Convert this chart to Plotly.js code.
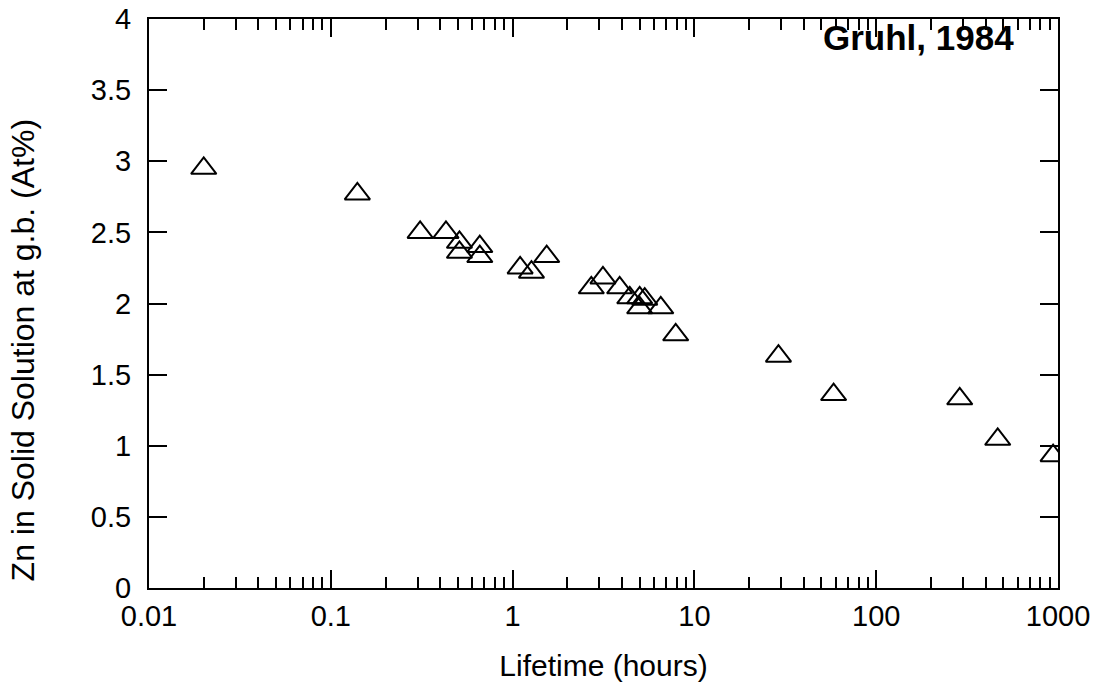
<!DOCTYPE html>
<html>
<head>
<meta charset="utf-8">
<script src="https://cdn.plot.ly/plotly-3.0.1.min.js"></script>
<style>html,body{margin:0;padding:0;background:#fff;}#chart{width:1099px;height:694px;}</style>
</head>
<body>
<div id="chart"></div>
<script>
// Data (Gruhl, 1984)
const lifetimeHours = [0.02, 0.14, 0.31, 0.43, 0.51, 0.51, 0.66, 0.66, 1.1, 1.27, 1.54,
  2.71, 3.14, 3.88, 4.41, 5.0, 5.33, 5.0, 6.53, 7.89, 29, 58.3, 288, 466, 940];
const znAtGB = [2.95, 2.77, 2.50, 2.50, 2.43, 2.36, 2.40, 2.33, 2.25, 2.22, 2.33,
  2.11, 2.18, 2.11, 2.04, 2.04, 2.03, 1.97, 1.97, 1.78, 1.63, 1.36, 1.33, 1.045, 0.93];
const xTickVals = [0.01, 0.1, 1, 10, 100, 1000];
const xTickText = ["0.01", "0.1", "1", "10", "100", "1000"];
const yTickVals = [0, 0.5, 1, 1.5, 2, 2.5, 3, 3.5, 4];
const yTickText = ["0", "0.5", "1", "1.5", "2", "2.5", "3", "3.5", "4"];
const xTitle = "Lifetime (hours)";
const yTitle = "Zn in Solid Solution at g.b. (At%)";
const label = "Gruhl, 1984";

const minorVals = [];
for (let d = -2; d < 3; d++) for (let m = 2; m <= 9; m++) minorVals.push(m * Math.pow(10, d));

const font = {family: "Liberation Sans, Arial, sans-serif", color: "#000"};

const trace = {
  x: lifetimeHours, y: znAtGB, type: "scatter", mode: "markers",
  marker: {symbol: "triangle-up-open", size: 22, color: "#000", line: {width: 2, color: "#000"}},
  hoverinfo: "x+y", showlegend: false
};

const layout = {
  width: 1099, height: 694,
  margin: {l: 149, r: 41, t: 19, b: 106, pad: 0},
  paper_bgcolor: "#fff", plot_bgcolor: "#fff",
  font: Object.assign({size: 29}, font),
  xaxis: {
    type: "log", range: [-2, 3],
    tickmode: "array", tickvals: xTickVals, ticktext: xTickText,
    ticks: "inside", ticklen: 18, tickwidth: 2, tickcolor: "#000",
    minor: {tickmode: "array", tickvals: minorVals, ticks: "inside", ticklen: 11, tickwidth: 2, tickcolor: "#000"},
    showline: true, linewidth: 2, linecolor: "#000", mirror: "allticks",
    showgrid: false, zeroline: false,
    tickfont: Object.assign({size: 29}, font),
    ticklabelstandoff: 1,
    title: {text: xTitle, font: Object.assign({size: 30}, font), standoff: 24}
  },
  yaxis: {
    range: [0, 4],
    tickmode: "array", tickvals: yTickVals, ticktext: yTickText,
    ticks: "inside", ticklen: 18, tickwidth: 2, tickcolor: "#000",
    showline: true, linewidth: 2, linecolor: "#000", mirror: "allticks",
    showgrid: false, zeroline: false,
    tickfont: Object.assign({size: 29}, font),
    ticklabelstandoff: 10
  },
  annotations: [{
    text: "<b>" + label + "</b>", xref: "paper", yref: "paper",
    x: 0.954, y: 0.967, xanchor: "right", yanchor: "middle", showarrow: false,
    font: Object.assign({size: 35}, font)
  }, {
    text: yTitle, xref: "paper", yref: "paper", textangle: -90,
    x: -0.139, y: 0.417, xanchor: "center", yanchor: "middle", showarrow: false,
    font: Object.assign({size: 32}, font)
  }]
};

Plotly.newPlot("chart", [trace], layout, {displayModeBar: false, staticPlot: true});
</script>
</body>
</html>
